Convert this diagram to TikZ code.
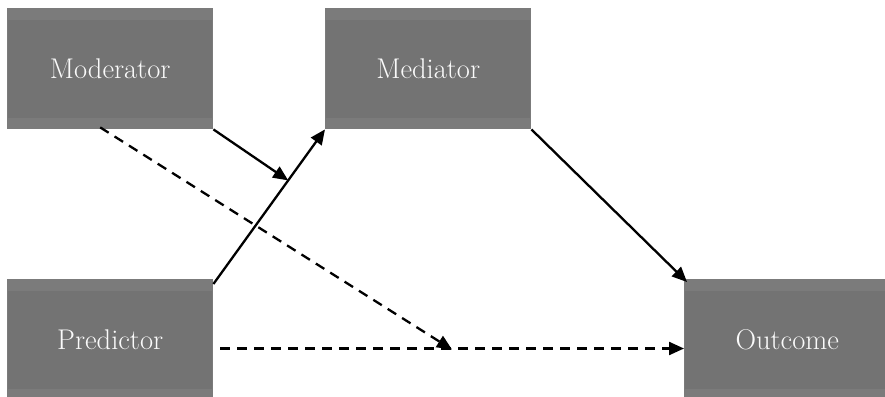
\documentclass[tikz,border=0pt]{standalone}
\usetikzlibrary{arrows.meta,calc}
\definecolor{boxouter}{HTML}{7B7B7B}
\definecolor{boxinner}{HTML}{737373}
\definecolor{boxtext}{HTML}{FAFAFA}
\begin{document}
\begin{tikzpicture}[x=1pt,y=-1pt,
  varbox/.style={rectangle, anchor=north west, fill=boxouter, inner sep=0pt,
    minimum width=206pt, minimum height=121pt, text=boxtext,
    font=\fontsize{28.5}{28.5}\selectfont,
    path picture={\fill[boxinner] ([xshift=1pt,yshift=-12pt]path picture bounding box.north west) rectangle ([xshift=-1pt,yshift=11pt]path picture bounding box.south east);}},
  solidarrow/.style={line width=2.3pt, -{Triangle[length=15pt,width=13pt]}},
  dasharrow/.style={line width=2.3pt, dash pattern=on 10pt off 7pt, -{Triangle[length=15pt,width=13pt]}}
]
\useasboundingbox (0,0) rectangle (885,396);
\node[varbox] (mod) at (7,8) {Moderator};
\node[varbox] (med) at (325,8) {Mediator};
\node[varbox] (pred) at (7,279) {Predictor};
\node[varbox] (out) at (684,279) {Outcome};
\coordinate (pstart) at ([yshift=-5pt]pred.north east);
\coordinate (j1) at ($(pstart)!0.67!(med.south west)$);
\coordinate (mstart) at ([xshift=-10pt,yshift=2pt]mod.south);
\coordinate (hstart) at (220,348.5);
\coordinate (hend) at (out.west |- hstart);
\coordinate (j2) at (452,349.5);
\draw[solidarrow] (pstart) -- (med.south west);
\draw[solidarrow] (mod.south east) -- (j1);
\draw[solidarrow] (med.south east) -- ([xshift=3pt,yshift=-3pt]out.north west);
\draw[dasharrow] (mstart) -- (j2);
\draw[dasharrow] (hstart) -- (hend);
\end{tikzpicture}
\end{document}
